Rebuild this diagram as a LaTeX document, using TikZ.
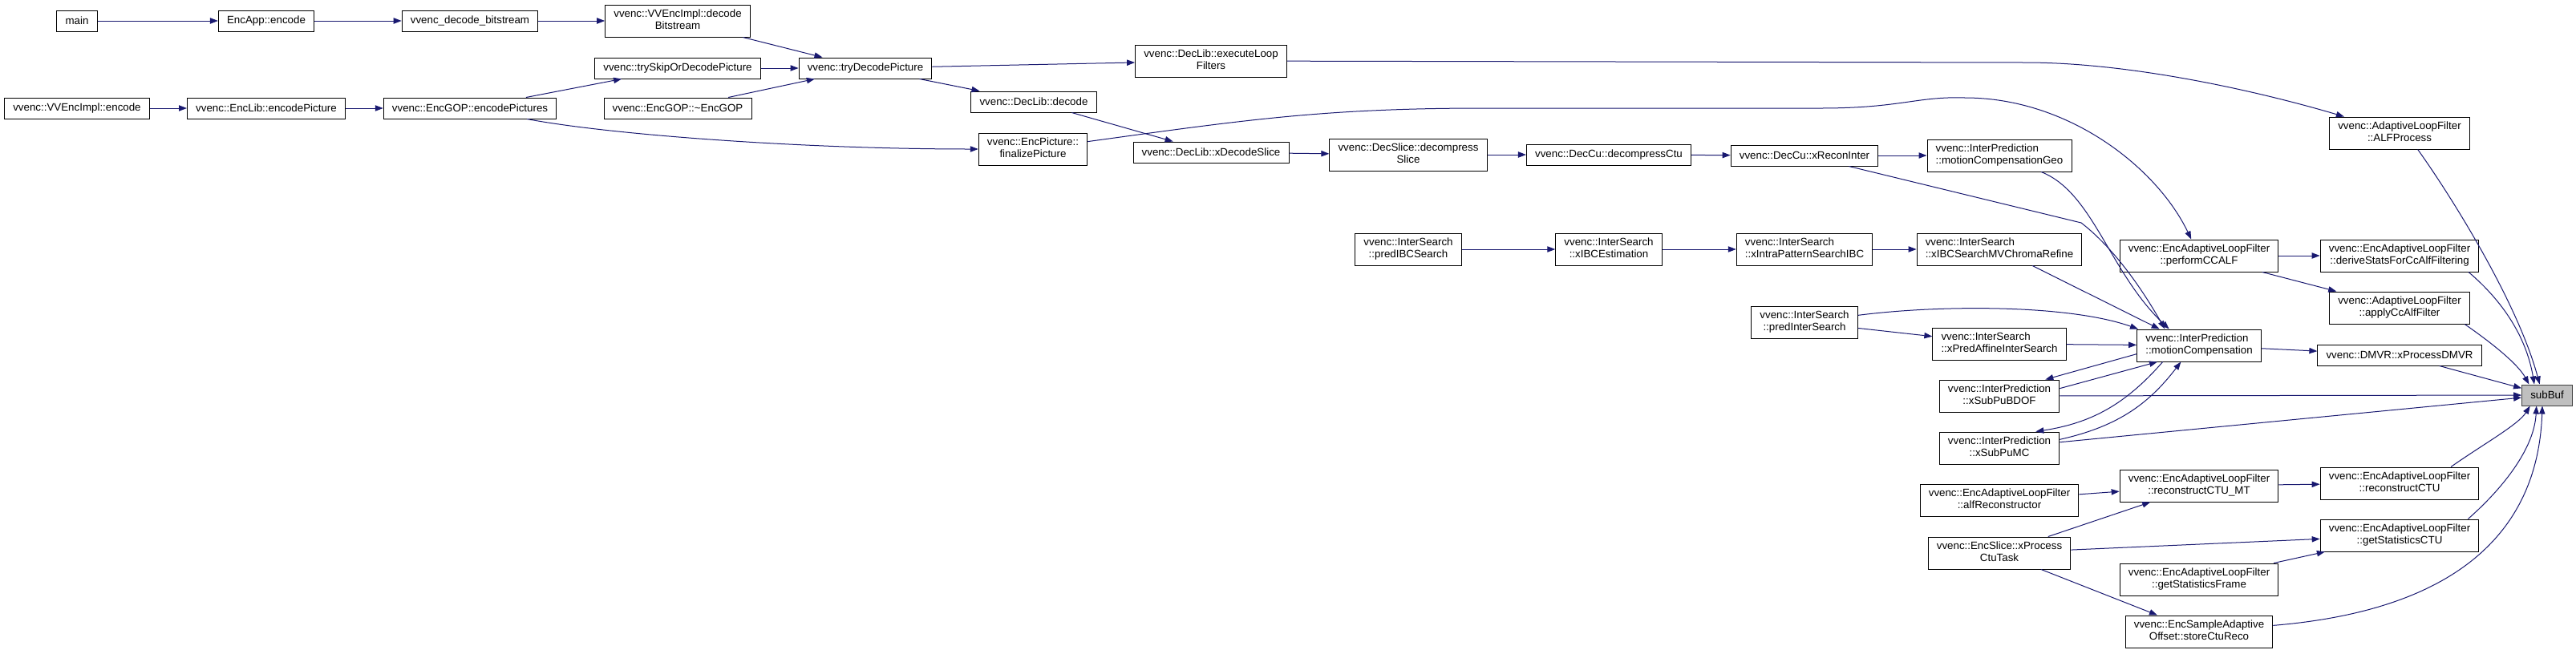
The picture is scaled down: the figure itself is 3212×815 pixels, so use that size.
\documentclass[tikz,border=0pt]{standalone}
\usepackage{fontspec}
\setmainfont{Liberation Sans}
\usetikzlibrary{arrows.meta}
\definecolor{callblue}{HTML}{191970}
\definecolor{rootgray}{HTML}{BFBFBF}
\newcommand{\twoln}[2]{\begin{tabular}{@{}c@{}}\multicolumn{1}{@{}l@{}}{#1}\\#2\end{tabular}}
\begin{document}
\begin{tikzpicture}[x=0.75pt, y=-0.75pt,
        fn/.style={draw=black, line width=0.75pt, fill=white, inner xsep=8pt, inner ysep=3.75pt, minimum height=19.5pt, font=\fontsize{10}{11.25}\selectfont},
        root/.style={fn, fill=rootgray, draw=black!75},
        call/.style={draw=callblue, line width=0.75pt, -{Triangle[length=7.5pt, width=5.5pt]}}]
        \useasboundingbox (0,0) rectangle (3212,815);

        \node[fn] (main)       at (96,26)    {main};
        \node[fn] (appEnc)     at (332,26)   {EncApp::encode};
        \node[fn] (decBits)    at (586,26)   {vvenc\_decode\_bitstream};
        \node[fn] (implDec)    at (845,26)   {\twoln{vvenc::VVEncImpl::decode}{Bitstream}};
        \node[fn] (trySkip)    at (845,85)   {vvenc::trySkipOrDecodePicture};
        \node[fn] (gopDtor)    at (845,135)  {vvenc::EncGOP::\textasciitilde EncGOP};
        \node[fn] (implEnc)    at (96,135)   {vvenc::VVEncImpl::encode};
        \node[fn] (libEnc)     at (332,135)  {vvenc::EncLib::encodePicture};
        \node[fn] (gopEnc)     at (586,135)  {vvenc::EncGOP::encodePictures};
        \node[fn] (tryDec)     at (1079,85)  {vvenc::tryDecodePicture};
        \node[fn] (loopFilt)   at (1510,76)  {\twoln{vvenc::DecLib::executeLoop}{Filters}};
        \node[fn] (libDec)     at (1289,127) {vvenc::DecLib::decode};
        \node[fn] (finPic)     at (1288,186) {\twoln{vvenc::EncPicture::}{finalizePicture}};
        \node[fn] (decSlice)   at (1510,190) {vvenc::DecLib::xDecodeSlice};
        \node[fn] (compSlice)  at (1756,193) {\twoln{vvenc::DecSlice::decompress}{Slice}};
        \node[fn] (compCtu)    at (2006,193) {vvenc::DecCu::decompressCtu};
        \node[fn] (reconInter) at (2250,194) {vvenc::DecCu::xReconInter};
        \node[fn] (mcGeo)      at (2493,194) {\twoln{vvenc::InterPrediction}{::motionCompensationGeo}};
        \node[fn] (alfProc)    at (2992,166) {\twoln{vvenc::AdaptiveLoopFilter}{::ALFProcess}};

        \node[fn] (predIBC)    at (1756,311) {\twoln{vvenc::InterSearch}{::predIBCSearch}};
        \node[fn] (ibcEst)     at (2006,311) {\twoln{vvenc::InterSearch}{::xIBCEstimation}};
        \node[fn] (intraPat)   at (2250,311) {\twoln{vvenc::InterSearch}{::xIntraPatternSearchIBC}};
        \node[fn] (chromaRef)  at (2493,311) {\twoln{vvenc::InterSearch}{::xIBCSearchMVChromaRefine}};
        \node[fn] (ccalf)      at (2742,319) {\twoln{vvenc::EncAdaptiveLoopFilter}{::performCCALF}};
        \node[fn] (deriveCc)   at (2992,319) {\twoln{vvenc::EncAdaptiveLoopFilter}{::deriveStatsForCcAlfFiltering}};
        \node[fn] (applyCc)    at (2992,384) {\twoln{vvenc::AdaptiveLoopFilter}{::applyCcAlfFilter}};
        \node[fn] (predInter)  at (2250,402) {\twoln{vvenc::InterSearch}{::predInterSearch}};
        \node[fn] (affine)     at (2493,429) {\twoln{vvenc::InterSearch}{::xPredAffineInterSearch}};
        \node[fn] (mc)         at (2742,431) {\twoln{vvenc::InterPrediction}{::motionCompensation}};
        \node[fn] (dmvr)       at (2992,443) {vvenc::DMVR::xProcessDMVR};
        \node[root] (subBuf)   at (3176,493) {subBuf};
        \node[fn] (bdof)       at (2493,494) {\twoln{vvenc::InterPrediction}{::xSubPuBDOF}};
        \node[fn] (subMC)      at (2493,559) {\twoln{vvenc::InterPrediction}{::xSubPuMC}};
        \node[fn] (recMT)      at (2742,606) {\twoln{vvenc::EncAdaptiveLoopFilter}{::reconstructCTU\_MT}};
        \node[fn] (recCtu)     at (2992,603) {\twoln{vvenc::EncAdaptiveLoopFilter}{::reconstructCTU}};
        \node[fn] (alfRec)     at (2493,624) {\twoln{vvenc::EncAdaptiveLoopFilter}{::alfReconstructor}};
        \node[fn] (statCtu)    at (2992,668) {\twoln{vvenc::EncAdaptiveLoopFilter}{::getStatisticsCTU}};
        \node[fn] (ctuTask)    at (2493,690) {\twoln{vvenc::EncSlice::xProcess}{CtuTask}};
        \node[fn] (statFrame)  at (2742,723) {\twoln{vvenc::EncAdaptiveLoopFilter}{::getStatisticsFrame}};
        \node[fn] (storeCtu)   at (2742,788) {\twoln{vvenc::EncSampleAdaptive}{Offset::storeCtuReco}};

        \draw[call] (main) -- (appEnc);
        \draw[call] (appEnc) -- (decBits);
        \draw[call] (decBits) -- (implDec);
        \draw[call] (implDec) -- (tryDec);
        \draw[call] (trySkip) -- (tryDec);
        \draw[call] (gopDtor) -- (tryDec);
        \draw[call] (implEnc) -- (libEnc);
        \draw[call] (libEnc) -- (gopEnc);
        \draw[call] (gopEnc) -- (trySkip);
        \draw[call] (gopEnc) .. controls (760,168) and (1000,186) .. (finPic);
        \draw[call] (tryDec) -- (loopFilt);
        \draw[call] (tryDec) -- (libDec);
        \draw[call] (libDec) -- (decSlice);
        \draw[call] (loopFilt) -- (2525,78) .. controls (2660,78) and (2820,115) .. (alfProc);
        \draw[call] (finPic) .. controls (1550,150) and (1650,135) .. (1850,135) -- (2270,135)
            .. controls (2370,135) and (2390,120) .. (2450,122) .. controls (2580,122) and (2690,210) .. (ccalf);
        \draw[call] (decSlice) -- (compSlice);
        \draw[call] (compSlice) -- (compCtu);
        \draw[call] (compCtu) -- (reconInter);
        \draw[call] (reconInter) -- (mcGeo);
        \draw[call] (reconInter) -- (2595,278) .. controls (2630,305) and (2665,350) .. ([xshift=-32pt]mc.north);
        \draw[call] (mcGeo) .. controls (2610,240) and (2630,340) .. ([xshift=-28pt]mc.north);
        \draw[call] (alfProc.south) ++(17pt,0) .. controls (3060,250) and (3140,380) .. ([xshift=-7pt]subBuf.north);

        \draw[call] (predIBC) -- (ibcEst);
        \draw[call] (ibcEst) -- (intraPat);
        \draw[call] (intraPat) -- (chromaRef);
        \draw[call] (chromaRef) -- ([xshift=-37pt]mc.north);
        \draw[call] (ccalf) -- (deriveCc);
        \draw[call] (ccalf) -- (applyCc);
        \draw[call] ([xshift=-10pt]deriveCc.south east) .. controls (3120,375) and (3150,420) .. ([xshift=-12pt]subBuf.north);
        \draw[call] ([xshift=-5pt]applyCc.south east) .. controls (3110,430) and (3140,455) .. ([xshift=-17pt]subBuf.north);
        \draw[call] (predInter) .. controls (2420,380) and (2580,380) .. ([xshift=-57pt]mc.north);
        \draw[call] (predInter) -- (affine);
        \draw[call] (affine) -- (mc);
        \draw[call] (mc) -- (dmvr);
        \draw[call] (dmvr) -- (subBuf);
        \draw[call] ([yshift=-8pt]mc.west) -- ([xshift=43pt]bdof.north);
        \draw[call] ([yshift=7pt]bdof.east) -- ([xshift=-39pt]mc.south);
        \draw[call] (bdof) -- (subBuf);
        \draw[call] ([xshift=-34pt]mc.south) to[bend left=20] ([xshift=34pt]subMC.north);
        \draw[call] ([yshift=8pt]subMC.east) to[bend right=20] ([xshift=-17pt]mc.south);
        \draw[call] (subMC) -- (subBuf);

        \draw[call] (alfRec) -- (recMT);
        \draw[call] (ctuTask) -- (recMT);
        \draw[call] (ctuTask) -- (statCtu);
        \draw[call] (ctuTask) -- (storeCtu);
        \draw[call] (recMT) -- (recCtu);
        \draw[call] (statFrame) -- (statCtu);
        \draw[call] ([xshift=48pt]recCtu.north) .. controls (3095,555) and (3140,530) .. ([xshift=-16pt]subBuf.south);
        \draw[call] ([xshift=64pt]statCtu.north) .. controls (3120,610) and (3160,560) .. ([xshift=-10pt]subBuf.south);
        \draw[call] (storeCtu) .. controls (3080,760) and (3165,650) .. ([xshift=-4.5pt]subBuf.south);
        \end{tikzpicture}
\end{document}
